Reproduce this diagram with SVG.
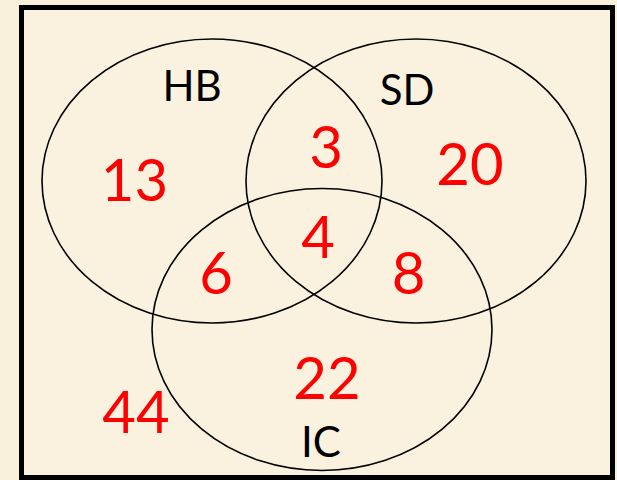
<svg xmlns="http://www.w3.org/2000/svg" width="617" height="480" viewBox="0 0 617 480">
<style>
.set{fill:none;stroke:#000;stroke-width:1.6}
.lbl{font-family:Lato,"Liberation Sans",sans-serif;font-size:42px;fill:#000;text-anchor:middle}
.num{font-family:Lato,"Liberation Sans",sans-serif;font-size:58px;fill:#ff0000;text-anchor:middle}
</style>
<rect x="0" y="0" width="617" height="480" fill="#f9f0da"/>
<rect x="21.5" y="7.5" width="591" height="470" fill="#faf2de" stroke="#000" stroke-width="5"/>
<g id="HB"><ellipse class="set" cx="212" cy="181" rx="170" ry="142"/><text class="lbl" x="192" y="101">HB</text></g>
<g id="SD"><ellipse class="set" cx="416" cy="181" rx="170" ry="142"/><text class="lbl" x="407" y="105">SD</text></g>
<g id="IC"><ellipse class="set" cx="322" cy="329.5" rx="170" ry="141"/><text class="lbl" x="321" y="457">IC</text></g>
<g id="counts">
<text class="num" x="134.5" y="201">13</text>
<text class="num" x="326" y="168">3</text>
<text class="num" x="470" y="185">20</text>
<text class="num" x="318" y="258">4</text>
<text class="num" x="216" y="294">6</text>
<text class="num" x="408.5" y="294">8</text>
<text class="num" x="327" y="399">22</text>
<text class="num" x="136" y="433">44</text>
</g>
</svg>
